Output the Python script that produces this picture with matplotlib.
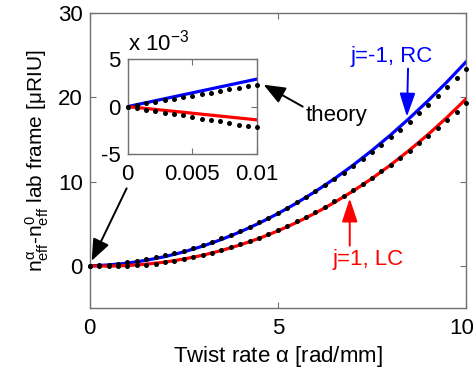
import numpy as np
import matplotlib
matplotlib.use('Agg')
import matplotlib.pyplot as plt
import matplotlib.transforms as mtransforms

plt.rcParams['font.family'] = ['Liberation Sans', 'DejaVu Sans']
plt.rcParams['mathtext.fontset'] = 'custom'
plt.rcParams['mathtext.rm'] = 'Liberation Sans'
plt.rcParams['mathtext.it'] = 'Liberation Sans'
plt.rcParams['mathtext.bf'] = 'Liberation Sans:bold'
plt.rcParams['font.size'] = 16

# measured (solid lines), alpha step 0.5 rad/mm
alpha_fit = [0, 0.5, 1, 1.5, 2, 2.5, 3, 3.5, 4, 4.5, 5,
             5.5, 6, 6.5, 7, 7.5, 8, 8.5, 9, 9.5, 10]
rc_fit = [0, 0.11, 0.32, 0.66, 1.10, 1.66, 2.34, 3.13, 4.04, 5.06, 6.20,
          7.46, 8.84, 10.33, 11.95, 13.69, 15.55, 17.53, 19.63, 21.85, 24.2]
lc_fit = [0, -0.03, 0.04, 0.20, 0.45, 0.81, 1.26, 1.82, 2.49, 3.26, 4.15,
          5.15, 6.27, 7.52, 8.88, 10.37, 11.99, 13.74, 15.62, 17.64, 19.8]

# theory (dots), alpha step 0.25 rad/mm
alpha_th = [0, 0.25, 0.5, 0.75, 1, 1.25, 1.5, 1.75, 2, 2.25, 2.5, 2.75, 3, 3.25,
            3.5, 3.75, 4, 4.25, 4.5, 4.75, 5, 5.25, 5.5, 5.75, 6, 6.25, 6.5,
            6.75, 7, 7.25, 7.5, 7.75, 8, 8.25, 8.5, 8.75, 9, 9.25, 9.5, 9.75, 10]
rc_th = [0, 0.06, 0.15, 0.27, 0.41, 0.58, 0.77, 1.00, 1.24, 1.52, 1.82, 2.15,
         2.50, 2.88, 3.29, 3.72, 4.19, 4.67, 5.19, 5.73, 6.30, 6.90, 7.52, 8.17,
         8.85, 9.55, 10.28, 11.04, 11.83, 12.64, 13.48, 14.35, 15.24, 16.17,
         17.12, 18.10, 19.10, 20.13, 21.20, 22.28, 23.40]
lc_th = [0, -0.04, -0.06, -0.04, 0.00, 0.06, 0.15, 0.27, 0.42, 0.59, 0.79,
         1.02, 1.28, 1.56, 1.86, 2.20, 2.56, 2.95, 3.36, 3.81, 4.28, 4.77, 5.29,
         5.84, 6.42, 7.02, 7.65, 8.31, 9.00, 9.71, 10.44, 11.21, 12.00, 12.82,
         13.66, 14.54, 15.44, 16.36, 17.31, 18.29, 19.30]

# inset (small alpha), y in units of 1e-3
in_alpha_fit = [0, 0.01]
in_rc_fit = [0, 2.9]
in_lc_fit = [0, -1.4]
in_alpha_th = [0, 0.000714, 0.001429, 0.002143, 0.002857, 0.003571, 0.004286,
               0.005, 0.005714, 0.006429, 0.007143, 0.007857, 0.008571,
               0.009286, 0.01]
in_rc_th = [0, 0.16, 0.33, 0.49, 0.66, 0.82, 0.99, 1.15, 1.31, 1.48, 1.64,
            1.81, 1.97, 2.14, 2.30]
in_lc_th = [0, -0.16, -0.31, -0.47, -0.63, -0.79, -0.94, -1.10, -1.26, -1.41,
            -1.57, -1.73, -1.89, -2.04, -2.20]

BLUE = '#0000ff'
RED = '#ff0000'
AXC = '#707070'


def style_axes(ax):
    for s in ax.spines.values():
        s.set_color(AXC)
        s.set_linewidth(1.0)
    ax.tick_params(direction='in', top=True, right=True, length=4,
                   color=AXC, labelcolor='black', width=0.8)


def arrow(ax, tail, tip, color, hl=0.6, hw=0.2, ms=24):
    ax.annotate('', xy=tip, xytext=tail,
                arrowprops=dict(arrowstyle=f'-|>,head_length={hl},head_width={hw}',
                                color=color, lw=1.4, mutation_scale=ms,
                                shrinkA=0, shrinkB=0))


fig = plt.figure(figsize=(4.75, 3.72), dpi=100)
ax = fig.add_axes([0.189, 0.172, 0.792, 0.793])

ax.plot(alpha_fit, rc_fit, color=BLUE, lw=2.3, zorder=2)
ax.plot(alpha_fit, lc_fit, color=RED, lw=2.3, zorder=2)
ax.plot(alpha_th, rc_th, 'o', color='black', ms=3.6, mew=0, zorder=3,
        clip_on=False)
ax.plot(alpha_th, lc_th, 'o', color='black', ms=3.6, mew=0, zorder=3,
        clip_on=False)

ax.set_xlim(0, 10)
ax.set_ylim(-5, 30)
ax.set_xticks([0, 5, 10])
ax.set_yticks([0, 10, 20, 30])
style_axes(ax)
ax.tick_params(axis='x', pad=7)
ax.tick_params(axis='y', pad=5)
ax.set_xlabel(r'Twist rate $\alpha$ [rad/mm]', labelpad=4)
ax.set_ylabel(r'$n^{\alpha}_{eff}$-$n^{0}_{eff}$ lab frame [$\mu$RIU]',
              labelpad=5, fontsize=15)

# keep the last x tick label inside the canvas
lbl = ax.get_xticklabels()[-1]
lbl.set_transform(lbl.get_transform() +
                  mtransforms.ScaledTranslation(-4 / 100, 0, fig.dpi_scale_trans))

# annotations
ax.text(8.03, 24.8, 'j=-1, RC', color=BLUE, ha='center', va='center')
arrow(ax, (8.46, 23.4), (8.43, 17.7), BLUE)
ax.text(7.39, 0.7, 'j=1, LC', color=RED, ha='center', va='center')
arrow(ax, (6.91, 2.4), (6.91, 8.0), RED)
ax.text(6.57, 17.9, 'theory', color='black', ha='center', va='center')
arrow(ax, (5.66, 18.9), (4.62, 21.5), 'black', hl=0.55, hw=0.22, ms=24)
arrow(ax, (0.98, 9.2), (0.05, 0.6), 'black', hl=0.55, hw=0.22, ms=24)

# inset
ins = fig.add_axes([0.269, 0.586, 0.272, 0.255])
ins.plot(in_alpha_fit, in_rc_fit, color=BLUE, lw=2.3, zorder=2)
ins.plot(in_alpha_fit, in_lc_fit, color=RED, lw=2.3, zorder=2)
ins.plot(in_alpha_th, in_rc_th, 'o', color='black', ms=3.6, mew=0,
         zorder=3, clip_on=False)
ins.plot(in_alpha_th, in_lc_th, 'o', color='black', ms=3.6, mew=0,
         zorder=3, clip_on=False)
ins.set_xlim(0, 0.01)
ins.set_ylim(-5, 5)
ins.set_xticks([0, 0.005, 0.01])
ins.set_xticklabels(['0', '0.005', '0.01'])
ins.set_yticks([-5, 0, 5])
ins.set_yticklabels(['-5', '0', '5'])
style_axes(ins)
ins.tick_params(axis='x', pad=7)
ins.tick_params(axis='y', pad=5)
ins.text(0.0, 1.04, r'x 10$^{-3}$', transform=ins.transAxes,
         ha='left', va='bottom')

fig.savefig('out.png', dpi=100)
